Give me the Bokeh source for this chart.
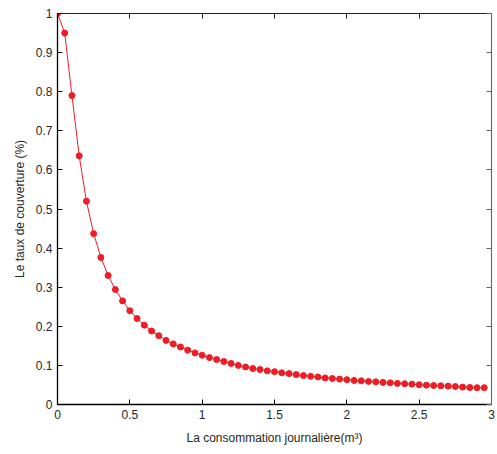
from bokeh.plotting import figure
from bokeh.models import Range1d, LinearAxis, FixedTicker
from bokeh.embed import file_html
from bokeh.resources import INLINE

# ---- data ----
x_vals = [0.00, 0.05, 0.10, 0.15, 0.20, 0.25, 0.30, 0.35, 0.40, 0.45,
          0.50, 0.55, 0.60, 0.65, 0.70, 0.75, 0.80, 0.85, 0.90, 0.95,
          1.00, 1.05, 1.10, 1.15, 1.20, 1.25, 1.30, 1.35, 1.40, 1.45,
          1.50, 1.55, 1.60, 1.65, 1.70, 1.75, 1.80, 1.85, 1.90, 1.95,
          2.00, 2.05, 2.10, 2.15, 2.20, 2.25, 2.30, 2.35, 2.40, 2.45,
          2.50, 2.55, 2.60, 2.65, 2.70, 2.75, 2.80, 2.85, 2.90, 2.95]
taux = [1.000, 0.950, 0.790, 0.636, 0.520, 0.437, 0.376, 0.330, 0.294, 0.265,
        0.240, 0.220, 0.203, 0.188, 0.176, 0.164, 0.155, 0.147, 0.139, 0.132,
        0.126, 0.120, 0.115, 0.110, 0.105, 0.100, 0.096, 0.092, 0.0895, 0.086,
        0.084, 0.081, 0.079, 0.0765, 0.074, 0.072, 0.0705, 0.068, 0.0665, 0.065,
        0.0635, 0.0615, 0.0605, 0.059, 0.058, 0.0565, 0.0555, 0.054, 0.053, 0.052,
        0.0505, 0.0495, 0.0485, 0.0478, 0.047, 0.046, 0.0445, 0.0435, 0.043, 0.043]
x_ticks = [0, 0.5, 1, 1.5, 2, 2.5, 3]
y_ticks = [0, 0.1, 0.2, 0.3, 0.4, 0.5, 0.6, 0.7, 0.8, 0.9, 1]
x_tick_labels = {0: "0", 0.5: "0.5", 1: "1", 1.5: "1.5", 2: "2", 2.5: "2.5", 3: "3"}
y_tick_labels = {0: "0", 0.1: "0.1", 0.2: "0.2", 0.3: "0.3", 0.4: "0.4", 0.5: "0.5",
                 0.6: "0.6", 0.7: "0.7", 0.8: "0.8", 0.9: "0.9", 1: "1"}
x_label = "La consommation journalière(m³)"
y_label = "Le taux de couverture (%)"

FONT = "Liberation Sans"
TXT = "#262626"

p = figure(width=497, height=454, output_backend="svg", toolbar_location=None,
           x_range=Range1d(0, 3), y_range=Range1d(0, 1),
           min_border_left=57, min_border_right=6, min_border_top=13, min_border_bottom=50,
           x_axis_label=x_label, y_axis_label=y_label)
p.background_fill_color = "white"
p.border_fill_color = "white"
p.outline_line_color = None
p.grid.visible = False

def style_axis(ax, ticks, overrides, show_labels=True, color="black", width=1.3):
    ax.ticker = FixedTicker(ticks=ticks)
    ax.major_label_overrides = overrides
    ax.minor_tick_line_color = None
    ax.major_tick_in = 5
    ax.major_tick_out = 0
    ax.major_tick_line_color = color
    ax.axis_line_color = color
    ax.axis_line_width = width
    ax.major_label_text_font = FONT
    ax.major_label_text_font_size = "12px"
    ax.major_label_text_color = TXT
    ax.major_label_standoff = 5
    if not show_labels:
        ax.major_label_text_font_size = "1px"
        ax.major_label_text_alpha = 0
        ax.major_label_standoff = 0

for ax in p.xaxis:
    style_axis(ax, x_ticks, x_tick_labels)
for ax in p.yaxis:
    style_axis(ax, y_ticks, y_tick_labels)

p.xaxis.axis_label_text_font = FONT
p.xaxis.axis_label_text_font_size = "12px"
p.xaxis.axis_label_text_font_style = "normal"
p.xaxis.axis_label_text_color = TXT
p.xaxis.axis_label_standoff = 9
p.yaxis.axis_label_text_font = FONT
p.yaxis.axis_label_text_font_size = "12px"
p.yaxis.axis_label_text_font_style = "normal"
p.yaxis.axis_label_text_color = TXT
p.yaxis.axis_label_standoff = 6

top = LinearAxis()
style_axis(top, x_ticks, {t: "" for t in x_ticks}, show_labels=False, color="#222222", width=1.1)
p.add_layout(top, "above")
right = LinearAxis()
style_axis(right, y_ticks, {t: "" for t in y_ticks}, show_labels=False, color="#666666", width=1.1)
p.add_layout(right, "right")

p.line(x_vals, taux, line_color="#ee1c24", line_width=1)
p.scatter(x_vals, taux, size=6, fill_color="#ee1c24", line_color="#ee1c24")

open("out.html", "w").write(file_html(p, INLINE))
